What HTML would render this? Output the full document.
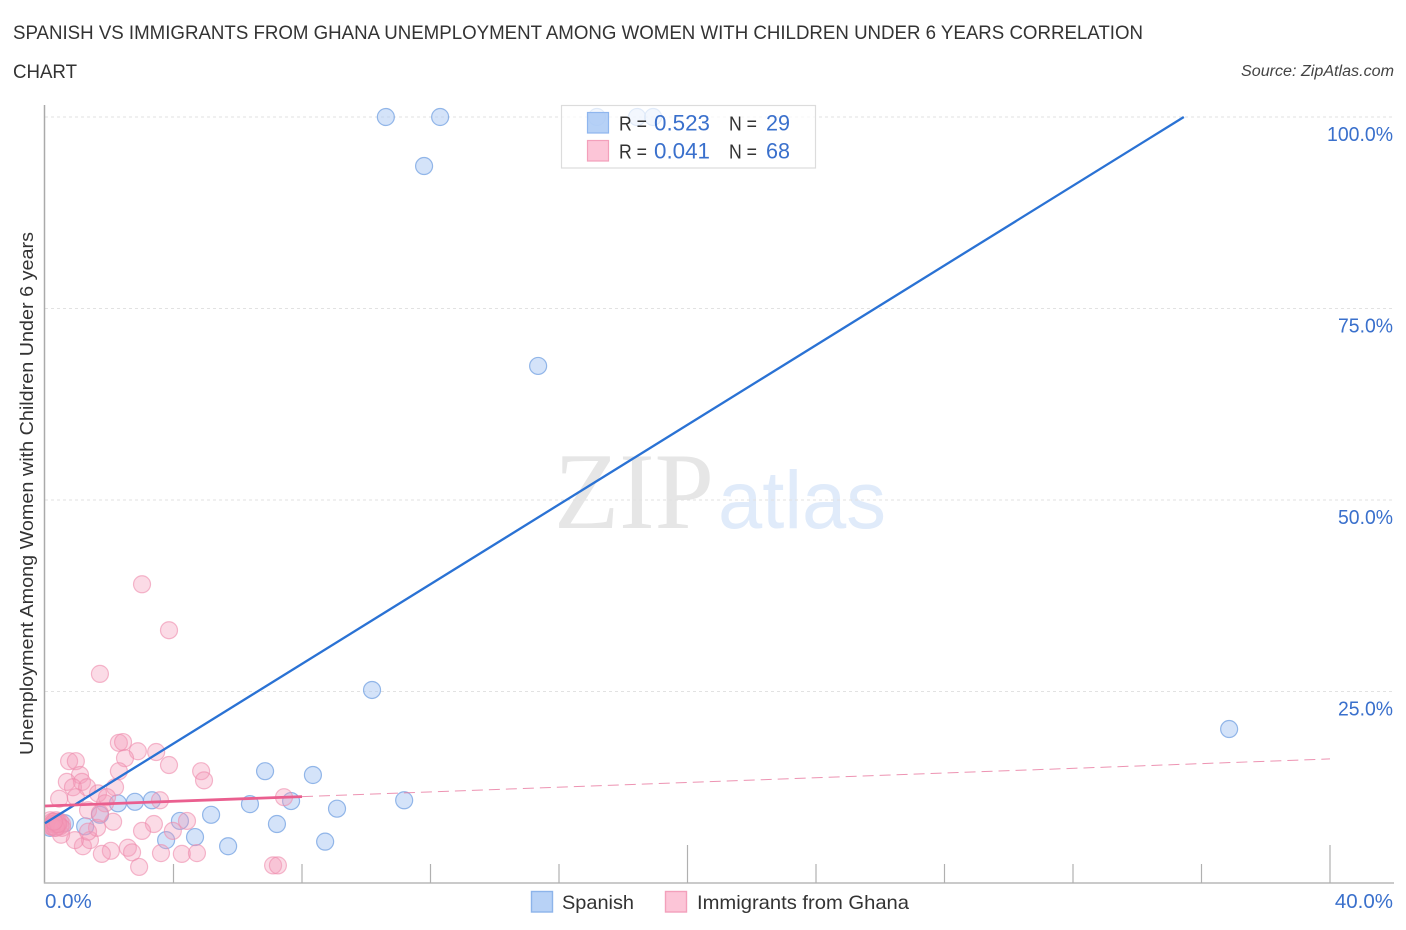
<!DOCTYPE html>
<html>
<head>
<meta charset="utf-8">
<title>Spanish vs Immigrants from Ghana</title>
<style>
html,body{margin:0;padding:0;background:#fff;width:1406px;height:930px;overflow:hidden}
svg{display:block}
text{font-family:"Liberation Sans",sans-serif}
</style>
</head>
<body>
<svg id="chart" width="1406" height="930" viewBox="0 0 1406 930" xmlns="http://www.w3.org/2000/svg">
  <defs><clipPath id="plot-clip"><rect x="45" y="90" width="1350" height="793"/></clipPath></defs>
  <text x="13" y="39" font-size="19" fill="#333" textLength="1130" lengthAdjust="spacingAndGlyphs">SPANISH VS IMMIGRANTS FROM GHANA UNEMPLOYMENT AMONG WOMEN WITH CHILDREN UNDER 6 YEARS CORRELATION</text>
  <text x="13" y="78" font-size="19" fill="#333" textLength="64" lengthAdjust="spacingAndGlyphs">CHART</text>
  <text x="1241" y="76" font-size="15.5" font-style="italic" fill="#444" textLength="153" lengthAdjust="spacingAndGlyphs">Source: ZipAtlas.com</text>
  <text transform="translate(33 493.5) rotate(-90)" font-size="18.5" fill="#333" text-anchor="middle" textLength="523" lengthAdjust="spacingAndGlyphs">Unemployment Among Women with Children Under 6 years</text>
  <g id="watermark">
    <text x="554" y="528" font-size="109" fill="#e6e6e6" style="font-family:'Liberation Serif',serif" textLength="160" lengthAdjust="spacingAndGlyphs">ZIP</text>
    <text x="718" y="528" font-size="82" fill="#e0ebfa" textLength="168" lengthAdjust="spacingAndGlyphs">atlas</text>
  </g>
  <g id="grid"></g>
  <g id="axes"></g>
  <g id="pts-blue" clip-path="url(#plot-clip)"></g>
  <g id="pts-pink" clip-path="url(#plot-clip)"></g>
  <g id="trends"></g>
  <g id="stats-legend">
    <rect x="561.5" y="105.5" width="254" height="62.5" fill="#fff" fill-opacity="0.72" stroke="#dcdcdc" stroke-width="1.2"/>
    <rect x="587.5" y="112.5" width="21" height="20.5" fill="#a9c9f5" fill-opacity="0.85" stroke="#8fb6ee" stroke-width="1.2"/>
    <rect x="587.5" y="140.5" width="21" height="20.5" fill="#fcc5d7" stroke="#f3a0bb" stroke-width="1.2"/>
    <text x="619" y="130.5" font-size="20" fill="#333" textLength="28" lengthAdjust="spacingAndGlyphs">R =</text>
    <text x="654" y="130.5" font-size="22" fill="#3a70cc" textLength="56" lengthAdjust="spacingAndGlyphs">0.523</text>
    <text x="729" y="130.5" font-size="20" fill="#333" textLength="28" lengthAdjust="spacingAndGlyphs">N =</text>
    <text x="766" y="130.5" font-size="22" fill="#3a70cc" textLength="24" lengthAdjust="spacingAndGlyphs">29</text>
    <text x="619" y="158.5" font-size="20" fill="#333" textLength="28" lengthAdjust="spacingAndGlyphs">R =</text>
    <text x="654" y="158.5" font-size="22" fill="#3a70cc" textLength="56" lengthAdjust="spacingAndGlyphs">0.041</text>
    <text x="729" y="158.5" font-size="20" fill="#333" textLength="28" lengthAdjust="spacingAndGlyphs">N =</text>
    <text x="766" y="158.5" font-size="22" fill="#3a70cc" textLength="24" lengthAdjust="spacingAndGlyphs">68</text>
  </g>
  <g id="bottom-legend">
    <rect x="531.5" y="891.5" width="21" height="20.5" fill="#b8d2f6" stroke="#8db4ea" stroke-width="1.4"/>
    <text x="562" y="909" font-size="19.5" fill="#333" textLength="72" lengthAdjust="spacingAndGlyphs">Spanish</text>
    <rect x="665.5" y="891.5" width="21" height="20.5" fill="#fcc5d7" stroke="#f3a0bb" stroke-width="1.4"/>
    <text x="697" y="909" font-size="19.5" fill="#333" textLength="212" lengthAdjust="spacingAndGlyphs">Immigrants from Ghana</text>
  </g>
</svg>
<script>
const yTickValues = [100, 75, 50, 25];
const yTickLabels = ["100.0%", "75.0%", "50.0%", "25.0%"];
const xTickValues = [4, 8, 12, 16, 20, 24, 28, 32, 36, 40];
const xMajorTicks = [20, 40];
const xEndValues = [0, 40];
const xEndLabels = ["0.0%", "40.0%"];

const spanishX = [10.61,12.30,11.80,15.35,10.18,36.86,6.85,8.34,11.18,9.09,7.66,6.38,3.33,2.80,2.27,5.17,7.22,4.20,1.71,4.67,3.77,8.72,5.70,17.18,18.43,18.93,1.25,0.62,0.16];
const spanishY = [100,100,93.6,67.5,25.2,20.1,14.6,14.1,10.8,9.7,10.7,10.3,10.8,10.6,10.4,8.9,7.7,8.1,8.9,6.0,5.6,5.4,4.8,100,100,100,7.4,7.8,7.2];

const ghanaX = [3.02,3.86,1.71,2.30,2.43,2.89,3.46,2.49,3.86,0.75,0.96,1.09,2.30,4.86,4.95,0.68,1.15,0.87,1.31,2.18,1.65,0.96,0.44,1.93,3.58,7.44,2.12,3.39,3.02,4.42,3.98,2.58,2.71,2.05,1.77,3.61,4.26,4.73,2.93,7.10,7.25,1.18,1.40,0.93,0.50,1.62,1.34,1.87,1.34,1.71,0.16,0.22,0.28,0.34,0.40,0.47,0.53,0.16,0.22,0.28,0.34,0.40,0.47,0.53,0.22,0.34,0.40,0.28];
const ghanaY = [39.0,33.0,27.3,18.3,18.4,17.2,17.1,16.3,15.4,15.9,15.9,14.1,14.6,14.6,13.4,13.2,13.2,12.5,12.5,12.5,11.7,11.2,11.0,11.2,10.8,11.2,8.0,7.7,6.8,8.1,6.8,4.6,4.0,4.2,3.8,3.9,3.8,3.9,2.1,2.3,2.3,4.8,5.6,5.6,6.3,7.2,6.7,10.4,9.5,9.1,8.2,8.0,7.7,8.2,7.4,8.0,7.7,7.4,7.7,7.2,7.7,8.0,7.4,7.2,7.4,7.2,7.7,8.0];

const spanishTrendX = [0, 35.45];
const spanishTrendY = [7.8, 100];
const ghanaSolidX = [0, 8];
const ghanaSolidY = [10.05, 11.28];
const ghanaDashX = [8, 40];
const ghanaDashY = [11.28, 16.2];

const NS = "http://www.w3.org/2000/svg";
const sx = v => 45 + v * 32.125;
const sy = v => 883 - v * 7.66;

function mk(parent, tag, attrs, txt) {
  const el = document.createElementNS(NS, tag);
  for (const k in attrs) el.setAttribute(k, attrs[k]);
  if (txt !== undefined) el.textContent = txt;
  document.getElementById(parent).appendChild(el);
  return el;
}

yTickValues.forEach(function (v, i) {
  const g = mk("grid", "line", {x1: 45, x2: 1394, y1: sy(v), y2: sy(v), stroke: "#e2e2e2", "stroke-width": 1, "stroke-dasharray": "3 3"});
  
  
  const t = mk("axes", "text", {x: 1393, y: sy(v) + 24, "font-size": 20.5, fill: "#3a70cc", "text-anchor": "end", textLength: yTickLabels[i].length * 11, lengthAdjust: "spacingAndGlyphs"}, yTickLabels[i]);
  
  
});

const yAxis = mk("axes", "line", {x1: 44.5, x2: 44.5, y1: 105, y2: 883.5, stroke: "#aaa", "stroke-width": 1.5});


const xAxis = mk("axes", "line", {x1: 44, x2: 1394, y1: 883, y2: 883, stroke: "#b8b8b8", "stroke-width": 1.5});



xTickValues.forEach(function (v) {
  const top = xMajorTicks.includes(v) ? 845 : 864;
  const t = mk("axes", "line", {x1: sx(v), x2: sx(v), y1: top, y2: 883, stroke: "#b0b0b0", "stroke-width": 1.2});
  
  
});

xEndValues.forEach(function (v, i) {
  const isFirst = i === 0;
  const t = mk("axes", "text", {x: isFirst ? 45 : 1393, y: 908, "font-size": 20.5, fill: "#3a70cc", "text-anchor": isFirst ? "start" : "end"}, xEndLabels[i]);
  
  
});

spanishX.forEach(function (v, i) {
  const c = mk("pts-blue", "circle", {cx: sx(v), cy: sy(spanishY[i]), r: 8.5, fill: "#a9c8f3", "fill-opacity": 0.5, stroke: "#7aa6e4", "stroke-opacity": 0.8, "stroke-width": 1.2});
  
  
});

ghanaX.forEach(function (v, i) {
  const c = mk("pts-pink", "circle", {cx: sx(v), cy: sy(ghanaY[i]), r: 8.5, fill: "#f59abb", "fill-opacity": 0.36, stroke: "#ee8aab", "stroke-opacity": 0.6, "stroke-width": 1.2});
  
  
});

const tBlue = mk("trends", "line", {x1: sx(spanishTrendX[0]), y1: sy(spanishTrendY[0]), x2: sx(spanishTrendX[1]), y2: sy(spanishTrendY[1]), stroke: "#2a72d4", "stroke-width": 2.3});


const tDash = mk("trends", "line", {x1: sx(ghanaDashX[0]), y1: sy(ghanaDashY[0]), x2: sx(ghanaDashX[1]), y2: sy(ghanaDashY[1]), stroke: "#e8789f", "stroke-width": 1, "stroke-opacity": 0.8, "stroke-dasharray": "11 6"});


const tPink = mk("trends", "line", {x1: sx(ghanaSolidX[0]), y1: sy(ghanaSolidY[0]), x2: sx(ghanaSolidX[1]), y2: sy(ghanaSolidY[1]), stroke: "#ea5f8f", "stroke-width": 2.8});


</script>
</body>
</html>
